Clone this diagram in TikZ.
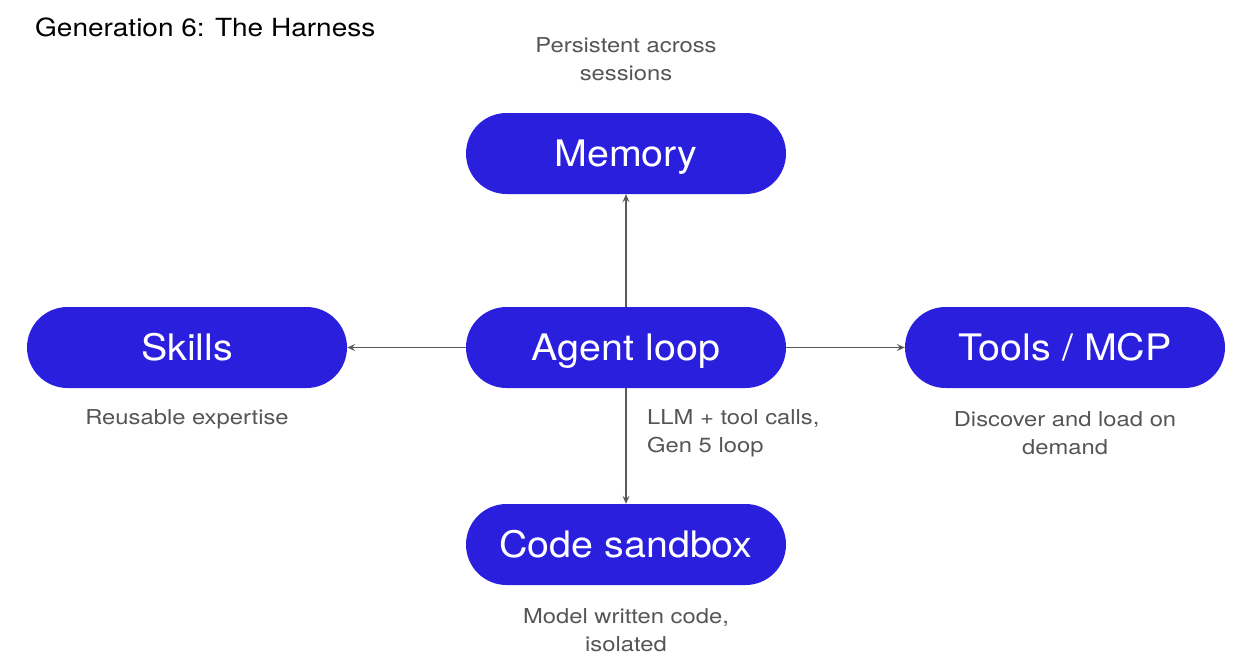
\documentclass[tikz,border=0pt]{standalone}
\usepackage{fontspec}
\setmainfont{TeX Gyre Heros}
\newfontfamily\labfont[FakeStretch=1.16]{TeX Gyre Heros}
\newfontfamily\pillfont[FakeStretch=1.08]{TeX Gyre Heros}
\newfontfamily\titlefont[FakeStretch=1.12]{TeX Gyre Heros}
\usetikzlibrary{arrows.meta}
\definecolor{boxblue}{HTML}{2B1FDE}
\definecolor{labgray}{HTML}{555555}
\definecolor{arrgray}{HTML}{5A5A5A}
\tikzset{
  pill/.style={fill=boxblue, text=white, rounded corners=40.5pt, minimum width=320pt, minimum height=81pt, inner sep=0pt, text height=26pt, text depth=0pt, font=\pillfont\fontsize{36.5}{40}\selectfont},
  lab/.style={text=labgray, align=center, font=\labfont\fontsize{20.5}{28}\selectfont, inner sep=0pt},
  conn/.style={draw=arrgray, line width=1.2pt, -{Stealth[length=8pt,width=7pt,inset=3pt]}}
}
\begin{document}
\begin{tikzpicture}[x=1pt,y=-1pt]
\useasboundingbox (0,0) rectangle (1238,670);
\node[anchor=west, font=\titlefont\fontsize{25}{28}\selectfont, inner sep=0pt] (title) at (35,27) {Generation 6: The Harness};
\node[pill] (mem) at (626,153.5) {Memory};
\node[pill] (skills) at (187,347.5) {Skills};
\node[pill] (agent) at (626,347.5) {Agent loop};
\node[pill] (tools) at (1065,347.5) {Tools / MCP};
\node[pill] (code) at (626,544.5) {Code sandbox};
\draw[conn] (agent.north) -- (mem.south);
\draw[conn] (agent.west) -- (skills.east);
\draw[conn] (agent.east) -- (tools.west);
\draw[conn] (agent.south) -- (code.north);
\node[lab] (lmem) at (626,59) {Persistent across\\sessions};
\node[lab] (lskills) at (187,419) {Reusable expertise};
\node[lab] (ltools) at (1065,433) {Discover and load on\\demand};
\node[lab, align=left, anchor=west] (lagent) at (647,433) {LLM + tool calls,\\Gen 5 loop};
\node[lab] (lcode) at (626,630) {Model written code,\\isolated};
\end{tikzpicture}
\end{document}
